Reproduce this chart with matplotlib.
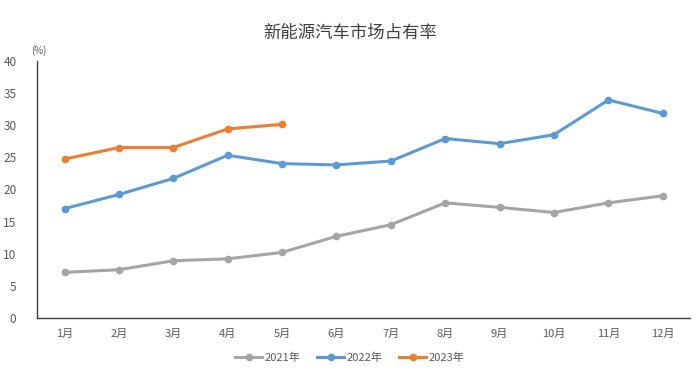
import matplotlib
matplotlib.use('agg')
import matplotlib.pyplot as plt
import numpy as np

plt.rcParams['font.family'] = ['Noto Sans CJK SC', 'DejaVu Sans']

months = ['1月', '2月', '3月', '4月', '5月', '6月', '7月', '8月', '9月', '10月', '11月', '12月']
y2021 = [7.1, 7.5, 8.9, 9.2, 10.2, 12.7, 14.5, 17.9, 17.2, 16.4, 17.9, 19.0]
y2022 = [17.0, 19.2, 21.7, 25.3, 24.0, 23.8, 24.4, 27.9, 27.1, 28.5, 33.9, 31.8]
y2023 = [24.7, 26.5, 26.5, 29.4, 30.1]
labels = ['2021年', '2022年', '2023年']
colors = ['#A5A5A5', '#5B9BD5', '#ED7D31']

fig = plt.figure(figsize=(7, 3.77), dpi=100)
ax = fig.add_axes([0.0533, 0.1565, 0.9324, 0.6825])

x = np.arange(len(months))
for ys, lab, c in zip([y2021, y2022, y2023], labels, colors):
    ax.plot(x[:len(ys)], ys, '-o', color=c, lw=2.2, ms=4.5, label=lab)

ax.set_xlim(-0.5, 11.5)
ax.set_ylim(0, 40)
ax.set_yticks(range(0, 41, 5))
ax.set_xticks(x)
ax.set_xticklabels(months)
ax.tick_params(length=0, labelsize=8, colors='#595959', pad=8)
ax.tick_params(axis='y', labelsize=8.5, pad=15)
for s in ['top', 'right']:
    ax.spines[s].set_visible(False)
for s in ['left', 'bottom']:
    ax.spines[s].set_color('#404040')
    ax.spines[s].set_linewidth(1.0)

fig.text(0.045, 0.858, '(%)', fontsize=7, color='#595959')
fig.text(0.5, 0.912, '新能源汽车市场占有率', ha='center', va='center', fontsize=12.5, color='#404040')

fig.legend(loc='center', bbox_to_anchor=(0.5, 0.05), ncol=3, frameon=False,
           fontsize=8, labelcolor='#595959', handlelength=2.4, columnspacing=1.5,
           handletextpad=0.25)

fig.savefig('out.png', dpi=100)
